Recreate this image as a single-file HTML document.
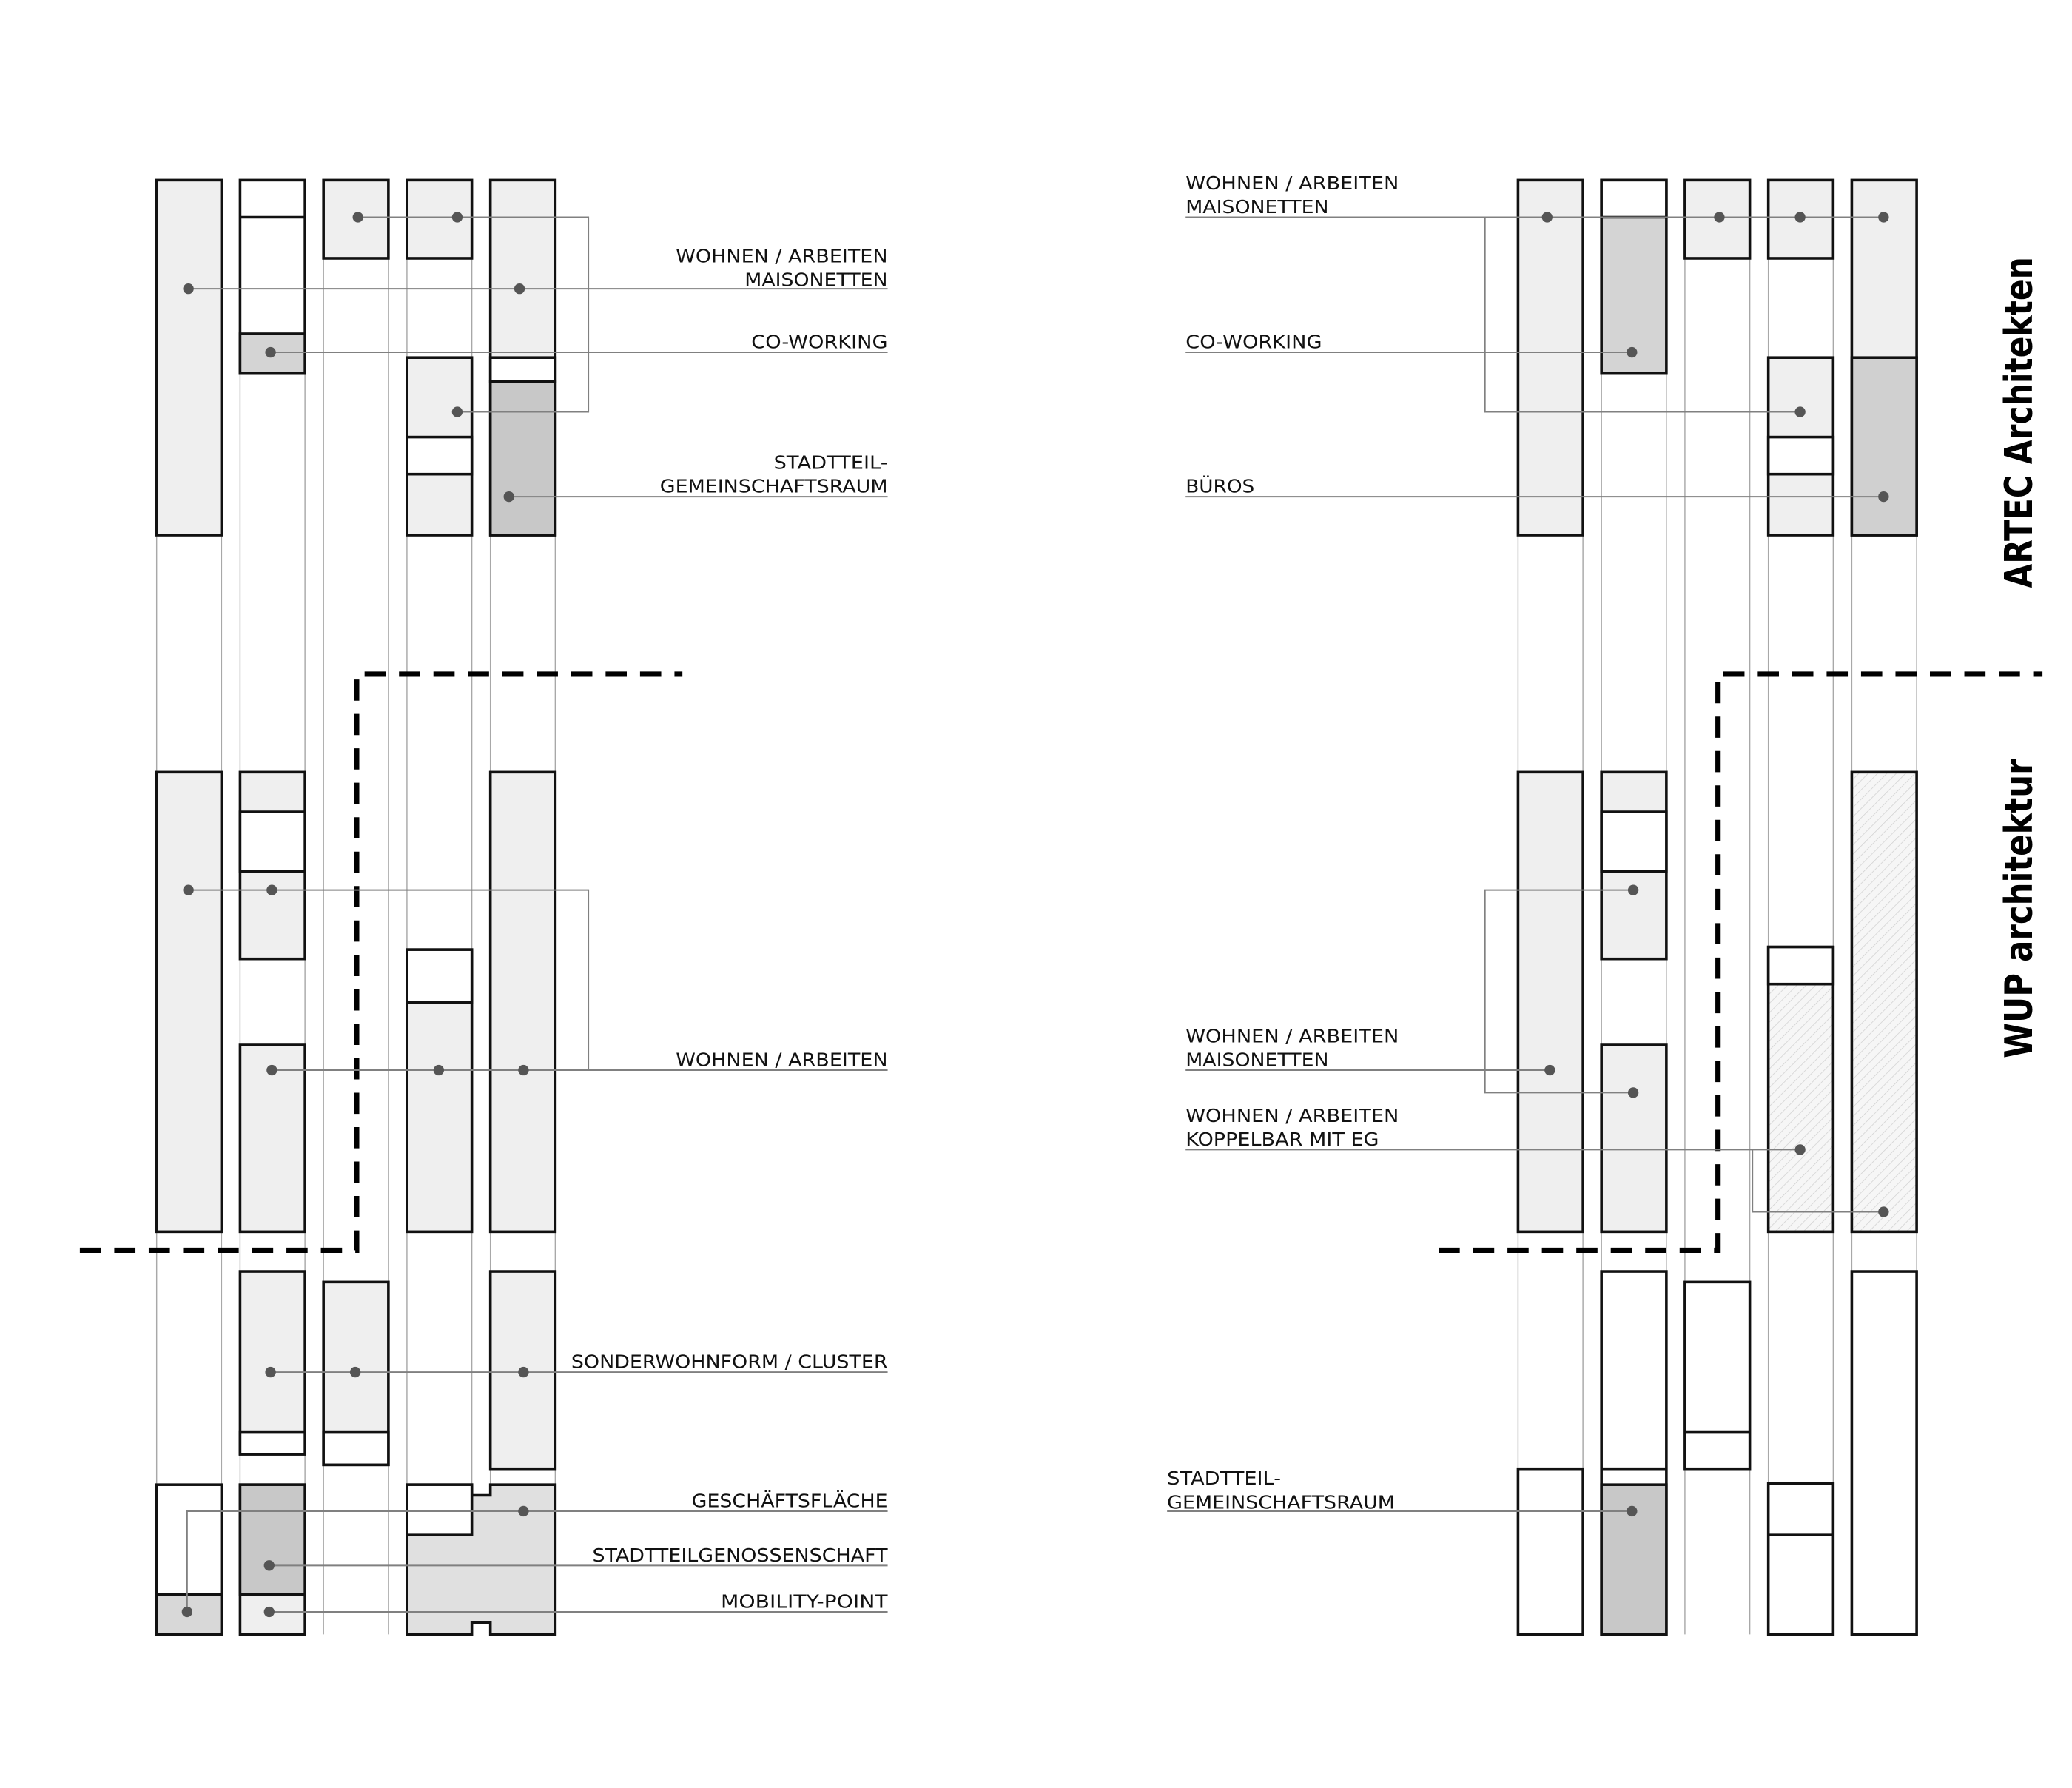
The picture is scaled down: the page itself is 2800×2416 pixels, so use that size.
<!DOCTYPE html>
<html><head><meta charset="utf-8"><style>html,body{margin:0;padding:0;background:#fff}svg{display:block}</style></head>
<body>
<svg width="2800" height="2416" viewBox="0 0 1564 1350" xmlns="http://www.w3.org/2000/svg" font-family="'DejaVu Sans','Liberation Sans',sans-serif">
<defs>
<pattern id="h" width="5" height="5" patternUnits="userSpaceOnUse" patternTransform="rotate(45)">
<rect width="5" height="5" fill="#f6f6f6"/><line x1="0" y1="0" x2="0" y2="5" stroke="#cfcfcf" stroke-width="0.8"/>
</pattern>
</defs>
<rect width="1564" height="1350" fill="#fff"/>
<!-- guide lines -->
<g stroke="#a8a8a8" stroke-width="0.8">
<line x1="118" y1="136" x2="118" y2="1234"/><line x1="167" y1="136" x2="167" y2="1234"/>
<line x1="181" y1="136" x2="181" y2="1234"/><line x1="230" y1="136" x2="230" y2="1234"/>
<line x1="244" y1="136" x2="244" y2="1234"/><line x1="293" y1="136" x2="293" y2="1234"/>
<line x1="307" y1="136" x2="307" y2="1234"/><line x1="356" y1="136" x2="356" y2="1234"/>
<line x1="370" y1="136" x2="370" y2="1234"/><line x1="419" y1="136" x2="419" y2="1234"/>
<line x1="1146" y1="136" x2="1146" y2="1234"/><line x1="1195" y1="136" x2="1195" y2="1234"/>
<line x1="1209" y1="136" x2="1209" y2="1234"/><line x1="1258" y1="136" x2="1258" y2="1234"/>
<line x1="1272" y1="136" x2="1272" y2="1234"/><line x1="1321" y1="136" x2="1321" y2="1234"/>
<line x1="1335" y1="136" x2="1335" y2="1234"/><line x1="1384" y1="136" x2="1384" y2="1234"/>
<line x1="1398" y1="136" x2="1398" y2="1234"/><line x1="1447" y1="136" x2="1447" y2="1234"/>
</g>
<g stroke="#111" stroke-width="2">
<!-- LEFT TOP -->
<rect x="118" y="136" width="49" height="268" fill="#efefef"/>
<rect x="181" y="136" width="49" height="146" fill="#fff"/>
<rect x="181" y="252" width="49" height="30" fill="#d4d4d4"/>
<line x1="181" y1="164" x2="230" y2="164"/>
<rect x="244" y="136" width="49" height="59" fill="#efefef"/>
<rect x="307" y="136" width="49" height="59" fill="#efefef"/>
<rect x="307" y="270" width="49" height="134" fill="#efefef"/>
<rect x="307" y="330" width="49" height="28" fill="#fff"/>
<rect x="370" y="136" width="49" height="268" fill="#efefef"/>
<rect x="370" y="270" width="49" height="18" fill="#fff"/>
<rect x="370" y="288" width="49" height="116" fill="#c8c8c8"/>
<!-- LEFT MID -->
<rect x="118" y="583" width="49" height="347" fill="#efefef"/>
<rect x="181" y="583" width="49" height="141" fill="#efefef"/>
<rect x="181" y="613" width="49" height="45" fill="#fff"/>
<rect x="181" y="789" width="49" height="141" fill="#efefef"/>
<rect x="307" y="717" width="49" height="213" fill="#efefef"/>
<rect x="307" y="717" width="49" height="40" fill="#fff"/>
<rect x="370" y="583" width="49" height="347" fill="#efefef"/>
<!-- LEFT BOTTOM -->
<rect x="181" y="960" width="49" height="138" fill="#efefef"/>
<rect x="181" y="1081" width="49" height="17" fill="#fff"/>
<rect x="244" y="968" width="49" height="138" fill="#efefef"/>
<rect x="244" y="1081" width="49" height="25" fill="#fff"/>
<rect x="370" y="960" width="49" height="149" fill="#efefef"/>
<rect x="118" y="1121" width="49" height="113" fill="#fff"/>
<rect x="118" y="1204" width="49" height="30" fill="#d8d8d8"/>
<rect x="181" y="1121" width="49" height="113" fill="#efefef"/>
<rect x="181" y="1121" width="49" height="83" fill="#c8c8c8"/>
<path d="M307 1121 H356 V1129 H370 V1121 H419 V1234 H370 V1225 H356 V1234 H307 Z" fill="#e0e0e0"/>
<rect x="307" y="1121" width="49" height="38" fill="#fff"/>
<!-- RIGHT TOP -->
<rect x="1146" y="136" width="49" height="268" fill="#efefef"/>
<rect x="1209" y="136" width="49" height="146" fill="#d4d4d4"/>
<rect x="1209" y="136" width="49" height="28" fill="#fff"/>
<rect x="1272" y="136" width="49" height="59" fill="#efefef"/>
<rect x="1335" y="136" width="49" height="59" fill="#efefef"/>
<rect x="1335" y="270" width="49" height="134" fill="#efefef"/>
<rect x="1335" y="330" width="49" height="28" fill="#fff"/>
<rect x="1398" y="136" width="49" height="268" fill="#efefef"/>
<rect x="1398" y="270" width="49" height="134" fill="#d0d0d0"/>
<!-- RIGHT MID -->
<rect x="1146" y="583" width="49" height="347" fill="#efefef"/>
<rect x="1209" y="583" width="49" height="141" fill="#efefef"/>
<rect x="1209" y="613" width="49" height="45" fill="#fff"/>
<rect x="1209" y="789" width="49" height="141" fill="#efefef"/>
<rect x="1335" y="715" width="49" height="215" fill="url(#h)"/>
<rect x="1335" y="715" width="49" height="28" fill="#fff"/>
<rect x="1398" y="583" width="49" height="347" fill="url(#h)"/>
<!-- RIGHT BOTTOM -->
<rect x="1209" y="960" width="49" height="274" fill="#fff"/>
<rect x="1209" y="1121" width="49" height="113" fill="#c8c8c8"/>
<line x1="1209" y1="1109" x2="1258" y2="1109"/>
<rect x="1146" y="1109" width="49" height="125" fill="#fff"/>
<rect x="1272" y="968" width="49" height="141" fill="#fff"/>
<line x1="1272" y1="1081" x2="1321" y2="1081"/>
<rect x="1335" y="1120" width="49" height="114" fill="#fff"/>
<line x1="1335" y1="1159" x2="1384" y2="1159"/>
<rect x="1398" y="960" width="49" height="274" fill="#fff"/>
</g>
<!-- dashed boundaries -->
<g fill="none" stroke="#000" stroke-width="4" stroke-dasharray="16 10">
<path d="M60 944 H269 V509 H515"/>
<path d="M1086 944 H1297 V509 H1542"/>
</g>
<!-- connectors -->
<g fill="none" stroke="#808080" stroke-width="1.1">
<path d="M270 164 H444 V311 H345"/>
<path d="M142 218 H670"/>
<path d="M204 266 H670"/>
<path d="M384 375 H670"/>
<path d="M142 672 H444 V808"/>
<path d="M205 808 H670"/>
<path d="M204 1036 H670"/>
<path d="M141 1217 V1141 H670"/>
<path d="M203 1182 H670"/>
<path d="M203 1217 H670"/>
<path d="M895 164 H1422"/>
<path d="M1121 164 V311 H1359"/>
<path d="M895 266 H1232"/>
<path d="M895 375 H1422"/>
<path d="M1233 672 H1121 V825 H1233"/>
<path d="M895 808 H1170"/>
<path d="M895 868 H1359"/>
<path d="M1323 868 V915 H1422"/>
<path d="M881 1141 H1232"/>
</g>
<g fill="#555">
<circle cx="270" cy="164" r="4"/><circle cx="345" cy="164" r="4"/><circle cx="345" cy="311" r="4"/>
<circle cx="142" cy="218" r="4"/><circle cx="392" cy="218" r="4"/>
<circle cx="204" cy="266" r="4"/><circle cx="384" cy="375" r="4"/>
<circle cx="142" cy="672" r="4"/><circle cx="205" cy="672" r="4"/>
<circle cx="205" cy="808" r="4"/><circle cx="331" cy="808" r="4"/><circle cx="395" cy="808" r="4"/>
<circle cx="204" cy="1036" r="4"/><circle cx="268" cy="1036" r="4"/><circle cx="395" cy="1036" r="4"/>
<circle cx="395" cy="1141" r="4"/><circle cx="141" cy="1217" r="4"/>
<circle cx="203" cy="1182" r="4"/><circle cx="203" cy="1217" r="4"/>
<circle cx="1168" cy="164" r="4"/><circle cx="1298" cy="164" r="4"/><circle cx="1359" cy="164" r="4"/><circle cx="1422" cy="164" r="4"/>
<circle cx="1359" cy="311" r="4"/><circle cx="1232" cy="266" r="4"/><circle cx="1422" cy="375" r="4"/>
<circle cx="1233" cy="672" r="4"/><circle cx="1170" cy="808" r="4"/><circle cx="1233" cy="825" r="4"/>
<circle cx="1359" cy="868" r="4"/><circle cx="1422" cy="915" r="4"/>
<circle cx="1232" cy="1141" r="4"/>
</g>
<!-- labels -->
<g font-size="14" fill="#111" lengthAdjust="spacingAndGlyphs">
<g text-anchor="end">
<text x="670" y="198" textLength="160" lengthAdjust="spacingAndGlyphs">WOHNEN / ARBEITEN</text>
<text x="670" y="216" textLength="108" lengthAdjust="spacingAndGlyphs">MAISONETTEN</text>
<text x="670" y="263" textLength="103" lengthAdjust="spacingAndGlyphs">CO-WORKING</text>
<text x="670" y="354" textLength="86" lengthAdjust="spacingAndGlyphs">STADTTEIL-</text>
<text x="670" y="372" textLength="172" lengthAdjust="spacingAndGlyphs">GEMEINSCHAFTSRAUM</text>
<text x="670" y="805" textLength="160" lengthAdjust="spacingAndGlyphs">WOHNEN / ARBEITEN</text>
<text x="670" y="1033" textLength="239" lengthAdjust="spacingAndGlyphs">SONDERWOHNFORM / CLUSTER</text>
<text x="670" y="1138" textLength="148" lengthAdjust="spacingAndGlyphs">GESCHÄFTSFLÄCHE</text>
<text x="670" y="1179" textLength="223" lengthAdjust="spacingAndGlyphs">STADTTEILGENOSSENSCHAFT</text>
<text x="670" y="1214" textLength="126" lengthAdjust="spacingAndGlyphs">MOBILITY-POINT</text>
</g>
<text x="895" y="143" textLength="161" lengthAdjust="spacingAndGlyphs">WOHNEN / ARBEITEN</text>
<text x="895" y="161" textLength="108" lengthAdjust="spacingAndGlyphs">MAISONETTEN</text>
<text x="895" y="263" textLength="103" lengthAdjust="spacingAndGlyphs">CO-WORKING</text>
<text x="895" y="372" textLength="52" lengthAdjust="spacingAndGlyphs">BÜROS</text>
<text x="895" y="787" textLength="161" lengthAdjust="spacingAndGlyphs">WOHNEN / ARBEITEN</text>
<text x="895" y="805" textLength="108" lengthAdjust="spacingAndGlyphs">MAISONETTEN</text>
<text x="895" y="847" textLength="161" lengthAdjust="spacingAndGlyphs">WOHNEN / ARBEITEN</text>
<text x="895" y="865" textLength="146" lengthAdjust="spacingAndGlyphs">KOPPELBAR MIT EG</text>
<text x="881" y="1121" textLength="86" lengthAdjust="spacingAndGlyphs">STADTTEIL-</text>
<text x="881" y="1139" textLength="172" lengthAdjust="spacingAndGlyphs">GEMEINSCHAFTSRAUM</text>
</g>
<g font-family="'DejaVu Sans','Liberation Sans',sans-serif" font-weight="bold" font-size="29" fill="#000" text-anchor="middle">
<text transform="translate(1534 319) rotate(-90)" textLength="250" lengthAdjust="spacingAndGlyphs">ARTEC Architekten</text>
<text transform="translate(1534 686) rotate(-90)" textLength="226" lengthAdjust="spacingAndGlyphs">WUP architektur</text>
</g>
</svg>
</body></html>
